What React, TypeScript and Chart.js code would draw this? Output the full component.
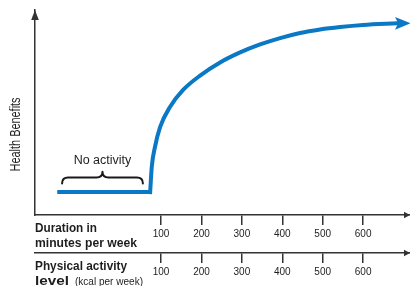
import React, { useEffect, useRef } from "react";
import { Chart, registerables } from "chart.js";

Chart.register(...registerables);

// ---------- data ----------
const durationTicks = [100, 200, 300, 400, 500, 600];
const kcalTicks = [100, 200, 300, 400, 500, 600];

const noActivityX = [-157, 73];
const noActivityY = [11.2, 11.2];

const curveX = [73, 77, 85, 97.5, 122, 154.5, 196.5, 246, 295.5, 345, 394.5, 444, 493.5, 543, 600, 684];
const curveY = [11.2, 23.6, 33.3, 42.9, 52.7, 61, 68, 74.4, 79.3, 83.2, 86.3, 88.8, 90.5, 91.7, 92.7, 93.5];

const yAxisLabel = "Health Benefits";
const row1Label = ["Duration in", "minutes per week"];
const row2Label = ["Physical activity", "level", "(kcal per week)"];
const braceLabel = "No activity";
const braceX = [-145, 55];
const braceY = [15.4, 18.3, 21.1];
const braceLabelY = 26.5;

const X_MIN = -212;
const X_MAX = 716;

// ---------- styles ----------
const BLUE = "#0a78c4";
const AXIS = "#333333";
const TEXT = "#1e1e1e";
const FAMILY = "'Liberation Sans', Arial, sans-serif";

function fitText(ctx: CanvasRenderingContext2D, text: string, x: number, y: number, font: string, w: number) {
  ctx.save();
  ctx.font = font;
  const m = ctx.measureText(text).width;
  ctx.translate(x, y);
  ctx.scale(w / m, 1);
  ctx.textAlign = "left";
  ctx.textBaseline = "alphabetic";
  ctx.fillText(text, 0, 0);
  ctx.restore();
}

function poly(ctx: CanvasRenderingContext2D, pts: number[][]) {
  ctx.beginPath();
  ctx.moveTo(pts[0][0], pts[0][1]);
  for (let i = 1; i < pts.length; i++) ctx.lineTo(pts[i][0], pts[i][1]);
  ctx.closePath();
  ctx.fill();
}

const decor = {
  id: "decor",
  afterDraw(chart: any) {
    const ctx: CanvasRenderingContext2D = chart.ctx;
    const { left, right, top } = chart.chartArea;
    const xs = chart.scales.x;
    const x2 = chart.scales.x2;
    const ys = chart.scales.y;
    ctx.save();

    // axis arrowheads
    ctx.fillStyle = AXIS;
    poly(ctx, [[left, top], [left - 3.8, top + 10], [left + 3.8, top + 10]]);
    poly(ctx, [[right, xs.top], [right - 6, xs.top - 3.2], [right - 6, xs.top + 3.2]]);
    poly(ctx, [[right, x2.top], [right - 6, x2.top - 3.2], [right - 6, x2.top + 3.2]]);

    // blue arrowhead at curve end
    const meta = chart.getDatasetMeta(1);
    const last = meta.data[meta.data.length - 1];
    const px = last.x;
    const py = last.y;
    ctx.fillStyle = BLUE;
    poly(ctx, [[px + 13.5, py], [px - 2, py - 6.3], [px + 1, py], [px - 2, py + 6.3]]);

    // brace
    const bx0 = xs.getPixelForValue(braceX[0]);
    const bx1 = xs.getPixelForValue(braceX[1]);
    const bxm = (bx0 + bx1) / 2;
    const yEnd = ys.getPixelForValue(braceY[0]);
    const yMid = ys.getPixelForValue(braceY[1]);
    const yPeak = ys.getPixelForValue(braceY[2]);
    const r = 6;
    ctx.strokeStyle = "#1a1a1a";
    ctx.lineWidth = 2;
    ctx.lineCap = "round";
    ctx.lineJoin = "round";
    ctx.beginPath();
    ctx.moveTo(bx0, yEnd);
    ctx.quadraticCurveTo(bx0, yMid, bx0 + r, yMid);
    ctx.lineTo(bxm - r, yMid);
    ctx.quadraticCurveTo(bxm, yMid, bxm, yPeak);
    ctx.quadraticCurveTo(bxm, yMid, bxm + r, yMid);
    ctx.lineTo(bx1 - r, yMid);
    ctx.quadraticCurveTo(bx1, yMid, bx1, yEnd);
    ctx.stroke();

    // brace label
    ctx.fillStyle = TEXT;
    ctx.font = `12.5px ${FAMILY}`;
    ctx.textAlign = "center";
    ctx.textBaseline = "middle";
    ctx.fillText(braceLabel, bxm, ys.getPixelForValue(braceLabelY));

    // y axis label (condensed)
    ctx.save();
    ctx.font = `15px ${FAMILY}`;
    const hm = ctx.measureText(yAxisLabel).width;
    ctx.translate(left - 19, ys.getPixelForValue(39.3));
    ctx.rotate(-Math.PI / 2);
    ctx.scale(74 / hm, 1);
    ctx.textAlign = "center";
    ctx.textBaseline = "middle";
    ctx.fillStyle = TEXT;
    ctx.fillText(yAxisLabel, 0, 0);
    ctx.restore();

    // row labels
    ctx.fillStyle = TEXT;
    fitText(ctx, row1Label[0], left, xs.top + 16.7, `bold 13px ${FAMILY}`, 62);
    fitText(ctx, row1Label[1], left, xs.top + 31.5, `bold 13px ${FAMILY}`, 102);
    fitText(ctx, row2Label[0], left, x2.top + 17, `bold 13px ${FAMILY}`, 92);
    fitText(ctx, row2Label[1], left, x2.top + 32, `bold 13px ${FAMILY}`, 34);
    fitText(ctx, row2Label[2], left + 40, x2.top + 31.5, `10.5px ${FAMILY}`, 68);

    ctx.restore();
  },
};

function xAxis(ticks: number[], weight: number, height: number) {
  return {
    type: "linear",
    position: "bottom",
    min: X_MIN,
    max: X_MAX,
    weight,
    afterBuildTicks: (s: any) => {
      s.ticks = ticks.map((v) => ({ value: v }));
    },
    afterFit: (s: any) => {
      s.height = height;
    },
    grid: {
      display: true,
      drawOnChartArea: false,
      drawTicks: true,
      tickLength: 10,
      color: AXIS,
      lineWidth: 1.5,
    },
    border: { display: true, color: AXIS, width: 1.5 },
    ticks: {
      padding: 3,
      autoSkip: false,
      maxRotation: 0,
      color: TEXT,
      font: { family: FAMILY, size: 10 },
      callback: (v: any) => String(v),
    },
  };
}

export default function App() {
  const ref = useRef<HTMLCanvasElement | null>(null);

  useEffect(() => {
    document.body.style.margin = "0";
    const canvas = ref.current;
    if (!canvas) return;
    const chart = new Chart(canvas, {
      type: "line",
      data: {
        datasets: [
          {
            data: noActivityX.map((x, i) => ({ x, y: noActivityY[i] })),
            borderColor: BLUE,
            borderWidth: 4,
            pointRadius: 0,
            fill: false,
            clip: false,
            borderCapStyle: "butt",
          },
          {
            data: curveX.map((x, i) => ({ x, y: curveY[i] })),
            borderColor: BLUE,
            borderWidth: 4,
            pointRadius: 0,
            fill: false,
            clip: false,
            cubicInterpolationMode: "monotone",
            borderCapStyle: "square",
          },
        ],
      } as any,
      options: {
        responsive: false,
        animation: false,
        devicePixelRatio: 1,
        layout: { padding: { top: 10, left: 0, right: 0, bottom: 0 } },
        plugins: { legend: { display: false }, tooltip: { enabled: false } },
        scales: {
          x: xAxis(durationTicks, 0, 38),
          x2: xAxis(kcalTicks, 1, 33),
          y: {
            type: "linear",
            position: "left",
            min: 0,
            max: 100,
            afterFit: (s: any) => {
              s.width = 35;
            },
            ticks: { display: false },
            grid: { display: false },
            border: { display: true, color: AXIS, width: 1.5 },
          },
        } as any,
      },
      plugins: [decor],
    });
    return () => chart.destroy();
  }, []);

  return (
    <div style={{ width: 410, height: 286 }}>
      <canvas ref={ref} width={410} height={286} style={{ display: "block" }} />
    </div>
  );
}
